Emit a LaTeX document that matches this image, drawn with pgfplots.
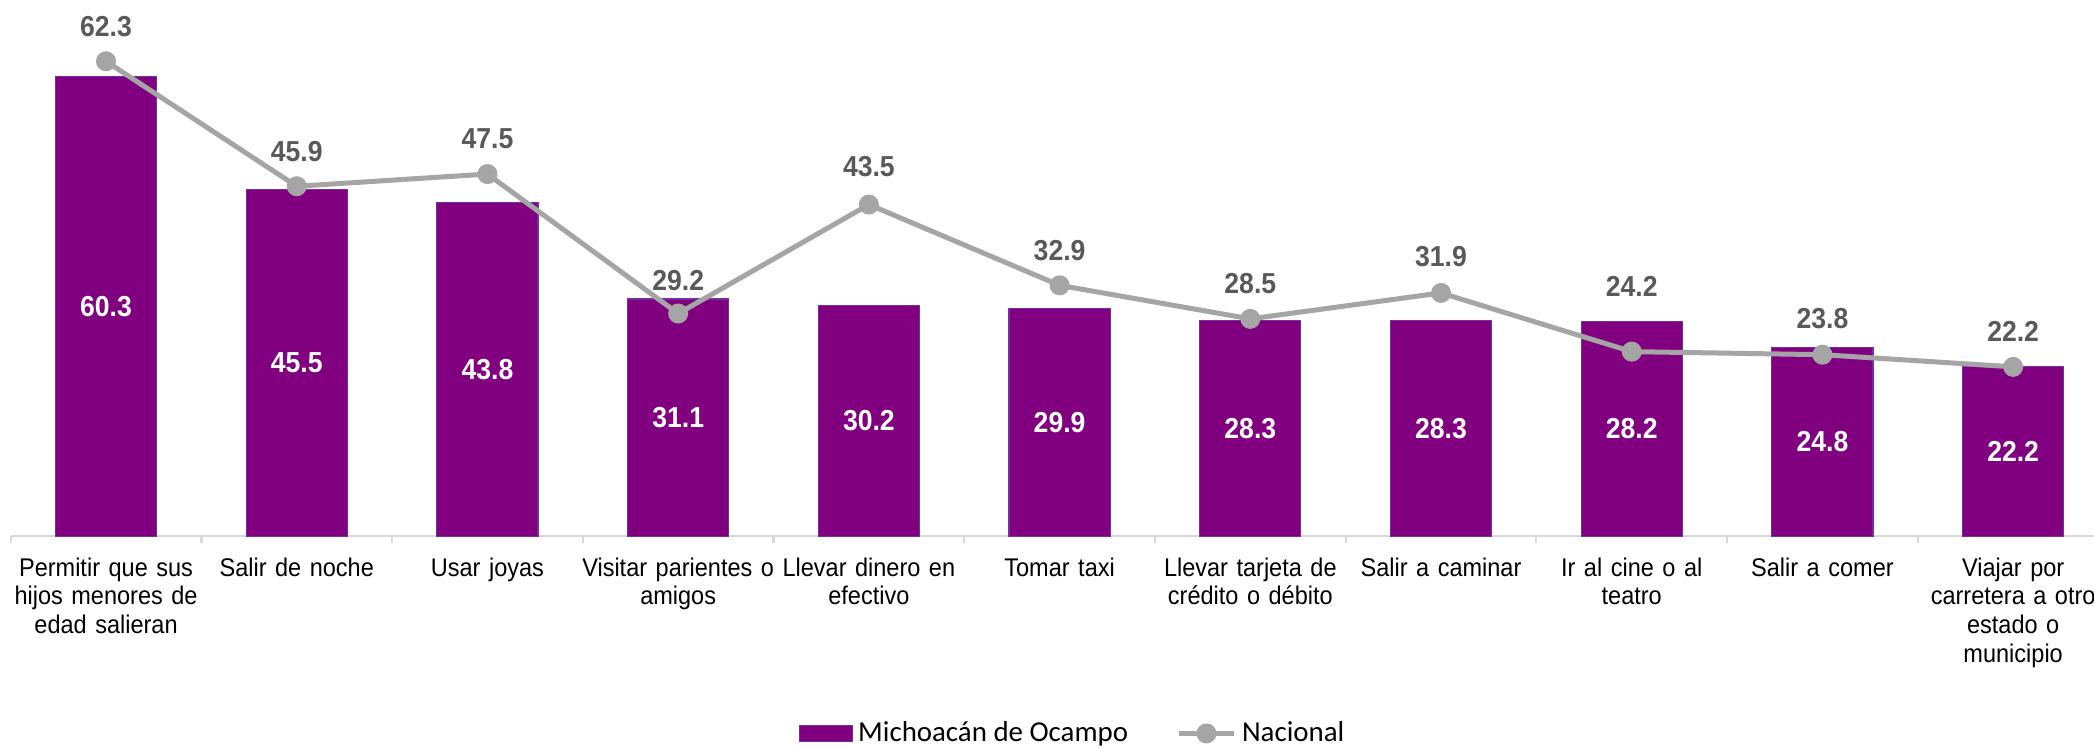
\documentclass[border=0pt]{standalone}
\usepackage{fontspec}
\setmainfont{Liberation Sans}
\newfontfamily\condfont{Liberation Sans}[FakeStretch=0.92]
\newfontfamily\legfont{Carlito}
\usepackage{pgfplots}
\usepackage{pgfplotstable}
\pgfplotsset{compat=1.18}

\definecolor{morado}{HTML}{800080}
\definecolor{bordemorado}{HTML}{7030A0}
\definecolor{gris}{HTML}{A5A5A5}
\definecolor{grisetq}{HTML}{595959}
\definecolor{ejegris}{HTML}{D9D9D9}

\pgfplotsset{
    barleg/.style={legend image code/.code={\draw[##1] (0pt,-2.9pt) rectangle (19pt,2.9pt);}},
    lineleg/.style={legend image code/.code={\draw[##1, mark repeat=2, mark phase=2] plot coordinates {(0pt,0pt) (9.9pt,0pt) (19.8pt,0pt)};}},
}

% x = posicion de la categoria, off = desplazamiento de la etiqueta Nacional (pt)
\pgfplotstableread{
x  mich  nac  off
0  60.3  62.3 12.6
1  45.5  45.9 12.6
2  43.8  47.5 12.6
3  31.1  29.2 12.0
4  30.2  43.5 13.5
5  29.9  32.9 12.6
6  28.3  28.5 12.6
7  28.3  31.9 13.0
8  28.2  24.2 23.4
9  24.8  23.8 12.9
10 22.2  22.2 12.9
}\datos

\begin{document}
\begin{tikzpicture}
\begin{axis}[
    scale only axis,
    width=755pt, height=192pt,
    xmin=-0.5, xmax=10.5,
    ymin=0, ymax=70,
    axis x line*=bottom,
    axis y line=none,
    x axis line style={-, draw=ejegris, line width=0.8pt},
    xtick={0,...,10},
    xticklabels={
        {Permitir que sus\\hijos menores de\\edad salieran},
        {Salir de noche},
        {Usar joyas},
        {Visitar parientes o\\amigos},
        {Llevar dinero en\\efectivo},
        {Tomar taxi},
        {Llevar tarjeta de\\crédito o débito},
        {Salir a caminar},
        {Ir al cine o al\\teatro},
        {Salir a comer},
        {Viajar por\\carretera a otro\\estado o\\municipio}},
    major x tick style={draw=none},
    minor xtick={-0.5,0.5,...,10.5},
    minor x tick style={draw=ejegris, line width=0.8pt},
    minor tick length=2.5pt,
    tick align=outside,
    xticklabel style={font={\fontsize{9.2pt}{10.3pt}\condfont}, align=center, text width=75pt},
    /pgf/number format/assume math mode=true,
    /pgf/number format/.cd, fixed, fixed zerofill, precision=1,
    /pgfplots/.cd,
    clip=false,
    legend columns=2,
    legend style={at={(0.507,-0.37)}, anchor=center, draw=none,
        font={\fontsize{10.4pt}{12pt}\legfont},
        /tikz/every even column/.append style={column sep=15.4pt}},
]
\addplot[ybar, bar shift=0pt, bar width=36.4pt, fill=morado, draw=bordemorado, line width=0.4pt,
    barleg,
    nodes near coords,
    visualization depends on={y \as \rawy},
    nodes near coords style={font={\fontsize{10.4pt}{12pt}\condfont\bfseries}, text=white, anchor=center,
        shift={(axis direction cs:0,-\rawy/2)}}]
    table[x=x, y=mich]{\datos};
\addlegendentry{Michoacán de Ocampo}

\addplot[color=gris, line width=1.8pt, mark=*, mark size=3.4pt,
    mark options={solid, fill=gris, draw=gris, line width=0.4pt},
    lineleg,
    nodes near coords,
    visualization depends on={\thisrow{off} \as \desp},
    nodes near coords style={font={\fontsize{10.4pt}{12pt}\condfont\bfseries}, text=grisetq, anchor=center,
        yshift={\desp*1pt}}]
    table[x=x, y=nac]{\datos};
\addlegendentry{Nacional}

\coordinate (bbsw) at (axis cs:-0.556,-27.69);
\coordinate (bbne) at (axis cs:10.424,70.34);
\end{axis}
\pgfresetboundingbox
\useasboundingbox (bbsw) rectangle (bbne);
\end{tikzpicture}
\end{document}
